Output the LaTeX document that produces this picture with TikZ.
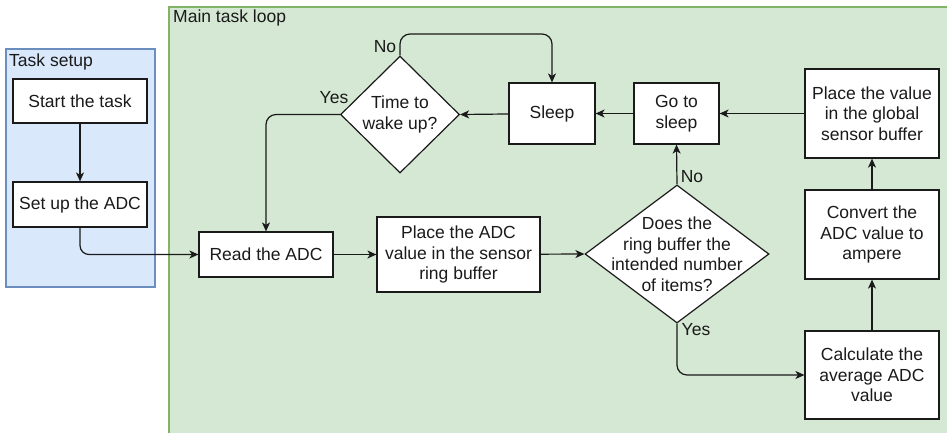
\documentclass[tikz,border=0pt]{standalone}
\usepackage{fontspec}
\setmainfont{Liberation Sans}
\usetikzlibrary{shapes.geometric,arrows.meta}
\definecolor{gfill}{HTML}{D5E8D4}
\definecolor{gline}{HTML}{82B366}
\definecolor{bfill}{HTML}{DAE8FC}
\definecolor{bline}{HTML}{6C8EBF}
\definecolor{ink}{HTML}{1A1A1A}
\begin{document}
\begin{tikzpicture}[x=1pt,y=-1pt,
  every node/.style={font=\fontsize{17.5pt}{20.5pt}\selectfont, text=ink},
  box/.style={draw=ink, fill=white, line width=1.2pt, align=center, inner sep=0pt},
  dec/.style={draw=ink, fill=white, line width=1.2pt, diamond, inner sep=0pt},
  arr/.style={draw=ink, line width=1.2pt, -{Stealth[length=9pt,width=8pt,inset=2.5pt]}},
  lbl/.style={inner sep=0pt}
]
\useasboundingbox (0,0) rectangle (947,432);
% containers
\path[fill=gfill, draw=gline, line width=1.3pt] (169,7) rectangle (960,450);
\path[fill=bfill, draw=bline, line width=1.3pt] (6,49) rectangle (155,287);
\node[lbl, anchor=base west] (tsl) at (9,66) {Task setup};
\node[lbl, anchor=base west] (mtl) at (173,22) {Main task loop};
% nodes
\node[box, minimum width=134pt, minimum height=44pt] (start) at (80,101) {Start the task};
\node[box, minimum width=134pt, minimum height=45pt] (setup) at (80,204.5) {Set up the ADC};
\node[box, minimum width=134pt, minimum height=45pt] (read) at (266,254.5) {Read the ADC};
\node[box, minimum width=163pt, minimum height=75pt] (place) at (458.5,254.5) {Place the ADC\\value in the sensor\\ring buffer};
\node[dec, minimum width=184pt, minimum height=138pt,
  label={[align=center, inner sep=0pt]center:Does the\\ring buffer the\\intended number\\of items?}] (dec1) at (677,254) {};
\node[box, minimum width=85pt, minimum height=61pt] (gosleep) at (676.5,113.5) {Go to\\sleep};
\node[box, minimum width=86pt, minimum height=61pt] (sleep) at (552,113.5) {Sleep};
\node[dec, minimum width=119pt, minimum height=117pt,
  label={[align=center, inner sep=0pt]center:Time to\\wake up?}] (dec2) at (400,114.5) {};
\node[box, minimum width=134pt, minimum height=89pt] (placeg) at (872,113.5) {Place the value\\in the global\\sensor buffer};
\node[box, minimum width=134pt, minimum height=89pt] (conv) at (872,234.5) {Convert the\\ADC value to\\ampere};
\node[box, minimum width=134pt, minimum height=88pt] (calc) at (872,375) {Calculate the\\average ADC\\value};
\coordinate (topc) at (480,34);
% connectors
\draw[arr] (start) -- (setup);
\draw[arr, rounded corners=9pt] (setup.south) |- (read.west);
\draw[arr] (read) -- (place);
\draw[arr] (place) -- (dec1.west);
\draw[arr] (dec1.north) -- (gosleep.south);
\draw[arr, rounded corners=10pt] (dec1.south) |- (calc.west);
\draw[arr] (calc) -- (conv);
\draw[arr] (conv) -- (placeg);
\draw[arr] (placeg) -- (gosleep);
\draw[arr] (gosleep) -- (sleep);
\draw[arr] (sleep) -- (dec2.east);
\draw[arr, rounded corners=10pt] (dec2.north) |- (topc) -| (sleep.north);
\draw[arr, rounded corners=10pt] (dec2.west) -| (read.north);
% edge labels
\node[lbl] (no2) at (385,47) {No};
\node[lbl] (yes2) at (334,98) {Yes};
\node[lbl] (no1) at (692,177) {No};
\node[lbl] (yes1) at (696,330) {Yes};
\end{tikzpicture}
\end{document}
